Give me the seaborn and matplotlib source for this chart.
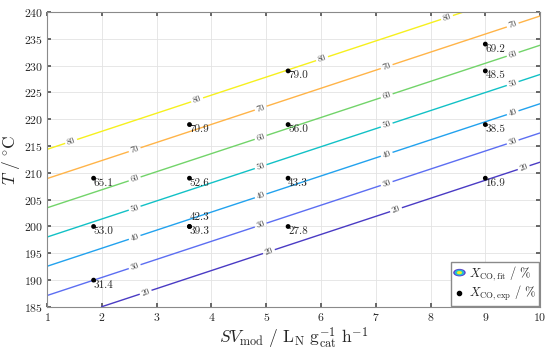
import numpy as np
import matplotlib
matplotlib.use('Agg')
import matplotlib.pyplot as plt
import seaborn as sns
from matplotlib.legend_handler import HandlerBase
from matplotlib.patches import Ellipse, Patch


# experimental points (SV, T, X_CO)
sv_exp = [1.85, 1.85, 1.85, 3.6, 3.6, 3.6, 3.6, 5.4, 5.4, 5.4, 5.4, 9.0, 9.0, 9.0, 9.0]
t_exp = [209, 200, 190, 219, 209, 200, 200, 229, 219, 209, 200, 234, 229, 219, 209]
x_exp = [65.1, 53.0, 31.4, 70.9, 52.6, 42.3, 39.3, 79.0, 56.0, 43.3, 27.8, 69.2, 48.5, 38.5, 16.9]
label_above = [False, False, False, False, False, True, False, False, False, False, False, False, False, False, False]

# fitted conversion field: X = a + b*SV + c*T
fit_a = -307.2
fit_b = -6.18
fit_c = 1.835

levels = [20, 30, 40, 50, 60, 70, 80]
level_colors = ['#4a3bc4', '#5c6ef2', '#22a2ee', '#12c1c6', '#72d46a', '#ffb448', '#f6f01e']
# where MATLAB put the inline labels (SV position along each line)
label_sv = {
    20: [2.8, 5.05, 7.37, 9.7],
    30: [2.6, 4.9, 7.2, 9.5],
    40: [2.6, 4.9, 7.2, 9.5],
    50: [2.6, 4.9, 7.2, 9.5],
    60: [2.6, 4.9, 7.2, 9.5],
    70: [2.6, 4.9, 7.2, 9.5],
    80: [1.44, 3.74, 6.02, 8.3],
}

sns.set_theme(style='whitegrid')
plt.rcParams['font.family'] = ['serif']
plt.rcParams['font.serif'] = ['cmr10', 'DejaVu Serif']
plt.rcParams['mathtext.fontset'] = 'cm'
plt.rcParams['axes.unicode_minus'] = False
plt.rcParams['axes.formatter.use_mathtext'] = True


class ContourIcon(HandlerBase):
    def create_artists(self, legend, orig_handle, xdescent, ydescent, width, height, fontsize, trans):
        cx = width / 2 - xdescent
        cy = height / 2 - ydescent
        arts = []
        for scale, col in [(1.0, '#5a3fc8'), (0.78, '#2ab4e8'), (0.6, '#1fc8c0'), (0.42, '#f2ec22')]:
            e = Ellipse((cx, cy), width * scale, height * 0.95 * scale,
                        facecolor=col, edgecolor='none', transform=trans)
            arts.append(e)
        return arts


fig = plt.figure(figsize=(5.5, 3.5), dpi=100)
ax = fig.add_axes([0.0855, 0.123, 0.8965, 0.843])

sv_grid = np.linspace(1, 10, 200)
t_grid = np.linspace(185, 240, 200)
SV, T = np.meshgrid(sv_grid, t_grid)
X = fit_a + fit_b * SV + fit_c * T

cs = ax.contour(SV, T, X, levels=levels, colors=level_colors, linewidths=1.0)
manual_pos = []
for lev in levels:
    for s in label_sv[lev]:
        manual_pos.append((s, (lev - fit_a - fit_b * s) / fit_c))
ax.clabel(cs, manual=manual_pos, fmt='%d', fontsize=6, colors='#444444', inline_spacing=2)

sns.scatterplot(x=sv_exp, y=t_exp, color='black', s=12, edgecolor='none', ax=ax, zorder=5)
for s, t, v, up in zip(sv_exp, t_exp, x_exp, label_above):
    if up:
        ax.annotate(f'{v:.1f}', (s, t), xytext=(0, 3), textcoords='offset points',
                    ha='left', va='bottom', fontsize=8)
    else:
        ax.annotate(f'{v:.1f}', (s, t), xytext=(0, 0), textcoords='offset points',
                    ha='left', va='top', fontsize=8)

ax.set_xlim(1, 10)
ax.set_ylim(185, 240)
ax.set_xticks(range(1, 11))
ax.set_yticks(range(185, 241, 5))
ax.tick_params(labelsize=8.5, direction='in', length=3, top=True, right=True,
               bottom=True, left=True, color='#555555', pad=3)
ax.grid(True, color='#e3e3e3', linewidth=0.6)
for sp in ax.spines.values():
    sp.set_color('#8a8a8a')
    sp.set_linewidth(0.8)

ax.set_xlabel(r'$SV_{\mathrm{mod}}\ /\ \mathrm{L_N\ g_{cat}^{-1}\ h^{-1}}$', fontsize=12.5, labelpad=2)
ax.set_ylabel(r'$T\ /\ ^{\circ}\mathrm{C}$', fontsize=12.5)
ax.yaxis.set_label_coords(-0.05, 0.5)

proxy_fit = Patch()
proxy_exp = plt.Line2D([], [], marker='o', color='black', linestyle='none', markersize=3)
ax.legend([proxy_fit, proxy_exp],
          [r'$X_{\mathrm{CO,fit}}\ /\ \%$', r'$X_{\mathrm{CO,exp}}\ /\ \%$'],
          handler_map={Patch: ContourIcon()}, loc='lower right', fontsize=9,
          frameon=True, fancybox=False, edgecolor='#8a8a8a', framealpha=1,
          handlelength=1.0, handleheight=0.6, handletextpad=0.3, borderpad=0.2,
          labelspacing=0.1, borderaxespad=0.1)

fig.savefig('out.png', dpi=100)
